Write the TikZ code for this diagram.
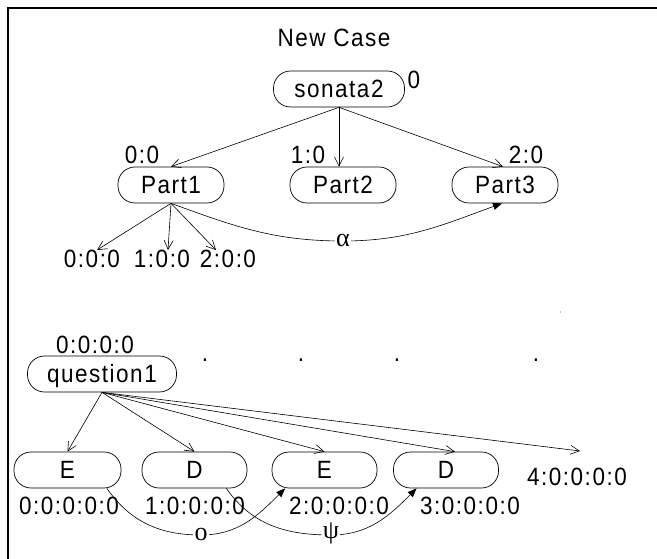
\documentclass[tikz,border=0pt]{standalone}
\usepackage{fontspec}
\setmainfont{Liberation Sans}[LetterSpace=6,FakeStretch=0.9]
\newfontfamily\greekfont{Liberation Serif}
\usetikzlibrary{arrows.meta}
\begin{document}
\begin{tikzpicture}[x=1pt,y=-1pt,
  every node/.style={font=\fontsize{25}{29}\selectfont, inner sep=0pt, text height=17.5pt, text depth=0pt},
  box/.style={draw, line width=0.7pt, rounded corners=17pt, minimum height=36pt},
  tree/.style={line width=0.6pt, -{Straight Barb[length=9pt,width=9pt]}},
  link/.style={line width=0.6pt, -{Triangle[length=9pt,width=7pt]}},
  frame/.style={line width=1.4pt},
  greek/.style={fill=white, inner sep=1.2pt, text height=11pt, font=\greekfont\fontsize{26}{30}\selectfont},
  dotmark/.style={text height=3pt}
]
\useasboundingbox (0,0) rectangle (657,559);
\fill[white] (0,0) rectangle (657,559);
\draw[frame] (657,8) -- (8,8) -- (8,559);

% upper tree
\node (title) at (334,38) {New Case};
\node[box, minimum width=131pt] (S) at (339,89) {sonata2};
\node (s0) at (414,80) {0};
\node[box, minimum width=106pt] (P1) at (171,185) {Part1};
\node[box, minimum width=106pt] (P2) at (343,185) {Part2};
\node[box, minimum width=106pt] (P3) at (505,185) {Part3};
\node (l00) at (142,155) {0:0};
\node (l10) at (308,155) {1:0};
\node (l20) at (526,155) {2:0};
\node (c0) at (92,259) {0:0:0};
\node (c1) at (162,259) {1:0:0};
\node (c2) at (228,259) {2:0:0};

\draw[tree] (S.south) -- (P1.north);
\draw[tree] (S.south) -- (S.south |- P2.north);
\draw[tree] (S.south) -- ([xshift=-2pt]P3.north);
\draw[tree] (P1.south) -- ([xshift=5pt]c0.north);
\draw[tree] (P1.south) -- ([xshift=6pt]c1.north);
\draw[tree] (P1.south) -- ([xshift=-12pt]c2.north);

\coordinate (ac) at (343,241);
\draw[link] (P1.south) to[out=-20,in=180] (ac) to[out=0,in=-160] ([xshift=-3pt]P3.south);
\node[greek] (alpha) at (ac) {α};

% lower tree
\node (q0) at (95,345) {0:0:0:0};
\node[box, minimum width=149pt] (Q) at (102,374) {question1};
\node[dotmark] (d1) at (205,360) {.};
\node[dotmark] (d2) at (301,360) {.};
\node[dotmark] (d3) at (397,360) {.};
\node[dotmark] (d4) at (536,360) {.};
\fill[gray!50] (559.5,311.5) rectangle (561,313);

\node[box, minimum width=107pt] (E1) at (67.5,470) {E};
\node[box, minimum width=105pt] (D1) at (194.5,470) {D};
\node[box, minimum width=105pt] (E2) at (324.5,470) {E};
\node[box, minimum width=105pt] (D2) at (446,470) {D};
\node (f4) at (577,477) {4:0:0:0:0};
\coordinate (fe) at (580,451);
\node (e0) at (69,506) {0:0:0:0:0};
\node (e1) at (195,506) {1:0:0:0:0};
\node (e2) at (339,506) {2:0:0:0:0};
\node (e3) at (470,506) {3:0:0:0:0};

\draw[tree] (Q.south) -- (E1.north);
\draw[tree] (Q.south) -- (D1.north);
\draw[tree] (Q.south) -- (E2.north);
\draw[tree] (Q.south) -- ([xshift=9pt]D2.north);
\draw[tree] (Q.south) -- (fe);

\coordinate (oc) at (201,535);
\coordinate (pc) at (331,535);
\draw[link] (E1.-25) to[out=-55,in=180] (oc) to[out=0,in=-135] (E2.-155);
\draw[link] (D1.-30) to[out=-55,in=180] (pc) to[out=0,in=-135] (D2.-148);
\node[greek] (omi) at (oc) {ο};
\node[greek] (psi) at ([yshift=2pt]pc) {ψ};
\end{tikzpicture}
\end{document}
